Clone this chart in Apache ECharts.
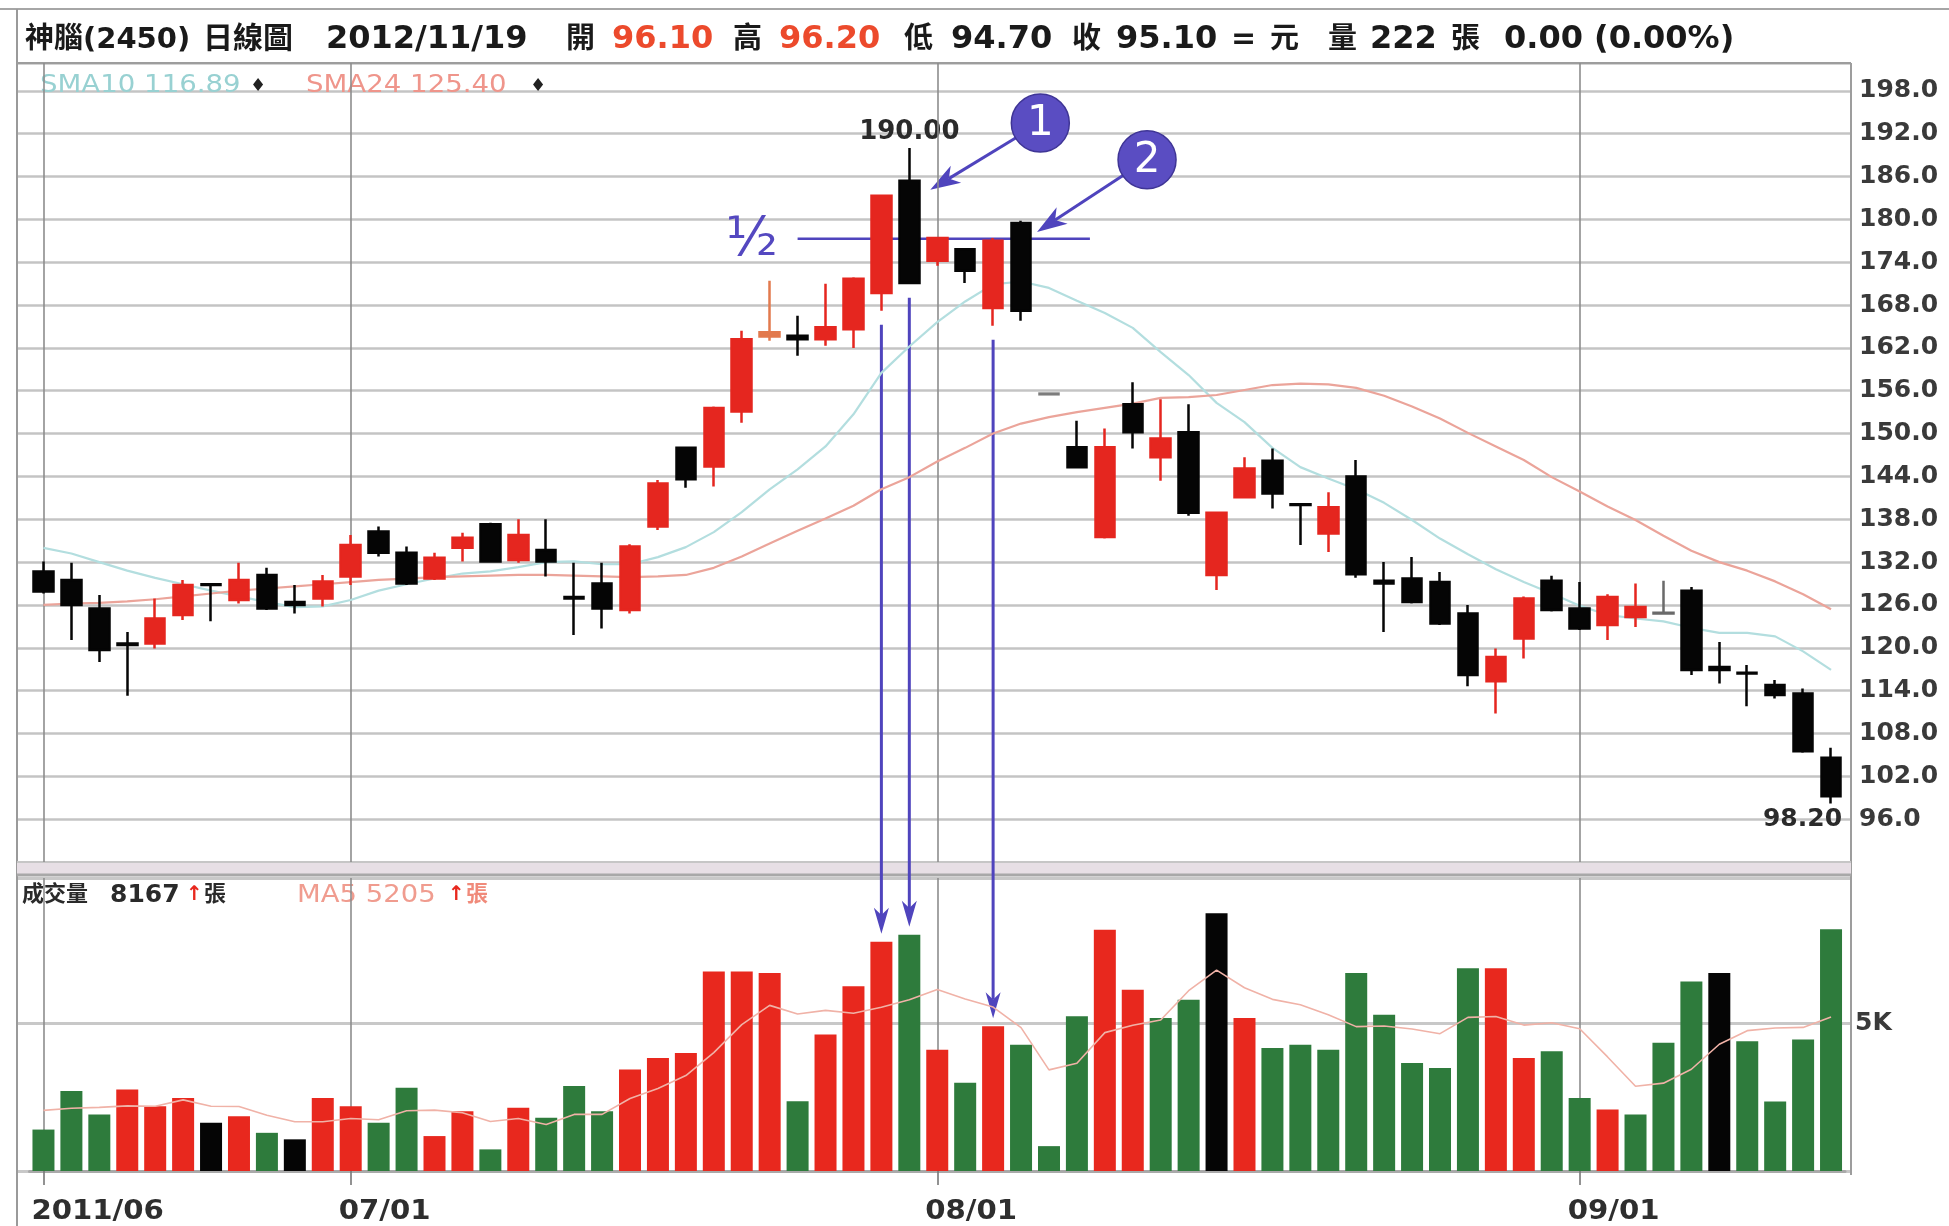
<!DOCTYPE html>
<html><head><meta charset="utf-8">
<script src="https://cdn.jsdelivr.net/npm/echarts@6/dist/echarts.min.js"></script>
<style>html,body{margin:0;padding:0;background:#fff;}#c{width:1949px;height:1226px;}</style>
</head><body><div id="c"></div>
<script>
// ---------------- DATA ----------------
const dates = [
'2011/06/16','2011/06/17','2011/06/20','2011/06/21','2011/06/22','2011/06/23','2011/06/24','2011/06/27','2011/06/28','2011/06/29','2011/06/30',
'2011/07/01','2011/07/04','2011/07/05','2011/07/06','2011/07/07','2011/07/08','2011/07/11','2011/07/12','2011/07/13','2011/07/14','2011/07/15',
'2011/07/18','2011/07/19','2011/07/20','2011/07/21','2011/07/22','2011/07/25','2011/07/26','2011/07/27','2011/07/28','2011/07/29',
'2011/08/01','2011/08/02','2011/08/03','2011/08/04','2011/08/05','2011/08/08','2011/08/09','2011/08/10','2011/08/11','2011/08/12',
'2011/08/15','2011/08/16','2011/08/17','2011/08/18','2011/08/19','2011/08/22','2011/08/23','2011/08/24','2011/08/25','2011/08/26',
'2011/08/29','2011/08/30','2011/08/31',
'2011/09/01','2011/09/02','2011/09/05','2011/09/06','2011/09/07','2011/09/08','2011/09/09','2011/09/13','2011/09/14','2011/09/15'];

const opens = [130.7,129.5,125.5,120.6,120.6,124.6,128.9,126.7,130.2,126.4,
126.9,130.0,136.3,133.3,129.7,134.0,137.3,132.3,133.7,127.1,
129.0,125.3,137.0,148.0,145.4,153.1,163.6,163.7,163.2,164.6,
169.7,185.4,174.2,175.8,167.6,179.5,155.6,148.1,135.5,154.1,
146.7,150.2,130.2,141.1,146.2,140.1,136.0,144.0,129.4,129.7,
129.2,124.8,115.3,121.3,129.4,125.5,123.2,124.3,124.9,128.0,
117.3,116.5,114.8,113.6,104.6];
const closes = [127.9,126.0,119.7,120.4,124.1,128.8,128.8,129.5,125.5,126.0,
129.3,134.4,133.3,129.0,132.6,135.4,132.1,135.8,132.1,126.9,
125.5,134.2,143.0,143.6,153.6,163.2,164.2,163.2,164.9,171.7,
183.3,171.1,177.4,172.8,177.0,167.2,155.5,145.3,148.1,150.2,
149.3,138.9,138.9,145.1,141.6,140.0,139.7,130.3,129.0,126.4,
123.4,116.2,118.7,126.9,125.3,122.7,127.1,125.7,124.8,116.9,
116.9,116.4,113.4,105.5,99.2];
const lows = [127.6,121.1,118.0,113.3,119.9,123.9,123.7,126.2,125.3,124.8,
125.8,128.8,132.8,128.8,129.5,132.1,131.9,131.9,130.0,121.8,
122.7,124.8,136.5,142.4,142.6,151.5,163.0,160.9,162.3,162.0,
167.2,171.0,173.5,171.1,165.1,165.8,155.5,145.3,135.3,147.9,
143.4,138.5,128.1,141.0,139.5,134.4,133.4,129.8,122.2,126.2,
123.2,114.6,110.8,118.5,125.1,122.5,121.1,122.9,124.8,116.2,
115.0,111.8,112.9,105.3,98.2];
const highs = [132.1,131.9,127.4,122.2,126.9,129.5,129.0,131.9,131.2,128.8,
130.2,135.8,137.0,134.2,133.3,136.1,137.5,138.0,138.0,131.9,
131.9,134.5,143.5,148.2,153.8,164.4,171.4,166.5,171.0,171.9,
183.5,190.0,177.5,175.9,177.4,179.8,155.6,151.8,150.7,157.2,
154.8,154.1,139.0,146.7,147.9,140.1,141.8,146.3,132.0,132.7,
130.6,126.0,119.9,127.2,130.1,129.2,127.5,129.0,129.4,128.5,
120.8,117.6,115.5,114.3,106.0];

const sma10 = [134.0,133.2,132.0,130.8,129.8,128.9,128.0,127.2,126.4,125.7,
125.8,126.7,128.0,128.9,129.7,130.4,130.7,131.3,132.0,132.1,
131.7,131.7,132.7,134.1,136.2,139.0,142.2,145.0,148.2,152.7,
158.5,162.2,165.6,168.5,170.9,171.3,170.4,168.6,166.9,164.8,
161.4,158.2,154.3,151.6,148.0,145.3,143.7,142.2,140.3,137.9,
135.3,133.1,131.0,129.2,127.6,125.9,124.6,124.1,123.7,122.8,
122.1,122.1,121.6,119.5,116.9];
const sma24 = [126.0,126.2,126.3,126.5,126.8,127.2,127.6,128.0,128.3,128.6,
128.9,129.2,129.5,129.7,129.9,130.0,130.1,130.2,130.2,130.1,
130.0,129.9,130.0,130.2,131.2,132.8,134.6,136.4,138.1,139.9,
142.2,143.9,146.1,148.0,150.0,151.4,152.3,153.0,153.6,154.2,
155.0,155.1,155.4,156.1,156.8,157.0,156.9,156.4,155.3,153.8,
152.1,150.1,148.2,146.3,143.9,141.9,139.8,137.9,135.7,133.6,
132.0,130.8,129.3,127.5,125.4];

const volumes = [1400,2700,1910,2750,2190,2470,1630,1850,1290,1070,
2470,2190,1630,2810,1180,2020,730,2140,1800,2870,
2020,3430,3820,3990,6740,6740,6690,2360,4610,6240,
7750,7980,4100,2980,4890,4270,840,5230,8150,6120,
5170,5790,8710,5170,4160,4270,4100,6690,5280,3650,
3480,6850,6850,3820,4050,2470,2080,1910,4330,6400,
6690,4380,2350,4440,8167];
// r = up (red), g = down (green), k = unchanged (black)
const volDir = ['g','g','g','r','r','r','k','r','g','k',
'r','r','g','g','r','r','g','r','g','g',
'g','r','r','r','r','r','r','g','r','r',
'r','g','r','g','r','g','g','g','r','r',
'g','g','k','r','g','g','g','g','g','g',
'g','g','r','r','g','g','r','g','g','g',
'k','g','g','g','g'];
const volMa5 = [2050,2120,2150,2200,2190,2404,2190,2178,1886,1662,
1662,1774,1730,2034,2056,1966,1674,1776,1574,1912,
1912,2452,2788,3226,4000,4944,5596,5304,5428,5328,
5530,5788,6136,5810,5540,4844,3416,3642,4676,4922,
5102,6092,6788,6192,5800,5620,5282,4878,4900,4798,
4640,5190,5222,4930,5010,4808,3854,2866,2968,3438,
4282,4742,4830,4852,5203];

const tickDates = ['2011/06/16','2011/07/01','2011/08/01','2011/09/01'];
const tickTexts = ['2011/06','07/01','08/01','09/01'];
const priceMin = 90, priceMax = 201.9, priceStep = 6;
const volMax = 9900, volStep = 5000;

// ---------------- STYLE ----------------
const RED = '#e5261f', BLACK = '#050505', GREEN = '#2e7b3c', GRAYC = '#7c7c7c';
const volColor = {r: '#e8281e', g: GREEN, k: BLACK};
const specialCandle = {26: '#e27a4e', 36: GRAYC, 58: '#6a6a6a'};
const FONT = '"DejaVu Sans", "Noto Sans CJK TC", sans-serif';
const GL = 29.5, GW = 1815.5;

const chart = echarts.init(document.getElementById('c'), null, {renderer: 'canvas'});

const ohlc = dates.map((d, i) => {
  const item = {value: [opens[i], closes[i], lows[i], highs[i]]};
  if (specialCandle[i]) {
    const c = specialCandle[i];
    item.itemStyle = {color: c, color0: c, borderColor: c, borderColor0: c};
  }
  return item;
});
const volData = volumes.map((v, i) => ({value: v, itemStyle: {color: volColor[volDir[i]]}}));
const tickIdx = tickDates.map(d => dates.indexOf(d));

const vline = {
  symbol: 'none', silent: true, z: 1, animation: false,
  label: {show: false},
  lineStyle: {color: '#8d8d8d', width: 1.6, type: 'solid'},
  emphasis: {disabled: true},
  data: tickDates.map(d => ({xAxis: d}))
};

const option = {
  animation: false,
  backgroundColor: '#fff',
  grid: [
    {left: GL, top: 63, width: GW, height: 799},
    {left: GL, top: 878, width: GW, height: 293},
    {left: 17, top: 63, width: 1834, height: 799},
    {left: 17, top: 878, width: 1834, height: 293}
  ],
  xAxis: [
    {type: 'category', data: dates, gridIndex: 0, boundaryGap: true,
     axisLine: {show: false}, axisTick: {show: false}, axisLabel: {show: false}, splitLine: {show: false}},
    {type: 'category', data: dates, gridIndex: 1, boundaryGap: true,
     axisLine: {show: true, lineStyle: {color: '#a9a9a9', width: 3}},
     axisTick: {show: true, alignWithLabel: true, length: 14, interval: (i) => tickIdx.includes(i),
                lineStyle: {color: '#777', width: 1.6}},
     axisLabel: {show: false}, splitLine: {show: false}},
    {type: 'value', gridIndex: 2, min: 0, max: 1, show: false},
    {type: 'value', gridIndex: 3, min: 0, max: 1, show: false}
  ],
  yAxis: [
    {type: 'value', gridIndex: 0, position: 'right', min: priceMin, max: priceMax, interval: priceStep,
     axisLine: {show: false}, axisTick: {show: false}, splitLine: {show: false},
     axisLabel: {margin: 14, color: '#3a3a3a', fontFamily: FONT, fontWeight: 'bold', fontSize: 25,
                 formatter: v => (v >= 95.9 && v <= 198.1) ? v.toFixed(1) : ''}},
    {type: 'value', gridIndex: 1, position: 'right', min: 0, max: volMax, interval: volStep,
     axisLine: {show: false}, axisTick: {show: false}, splitLine: {show: false},
     axisLabel: {margin: 10, color: '#3a3a3a', fontFamily: FONT, fontWeight: 'bold', fontSize: 25,
                 formatter: v => v === 5000 ? '5K' : ''}},
    {type: 'value', gridIndex: 2, min: priceMin, max: priceMax, interval: priceStep,
     axisLine: {show: false}, axisTick: {show: false}, axisLabel: {show: false},
     splitLine: {show: true, lineStyle: {color: '#c4c4c4', width: 2.6}}},
    {type: 'value', gridIndex: 3, min: 0, max: volMax, interval: volStep,
     axisLine: {show: false}, axisTick: {show: false}, axisLabel: {show: false},
     splitLine: {show: true, lineStyle: {color: '#c8c8c8', width: 3}}}
  ],
  series: [
    {type: 'line', name: 'SMA10', xAxisIndex: 0, yAxisIndex: 0, data: sma10, symbol: 'none', z: 1, silent: true,
     lineStyle: {color: '#b3dedf', width: 2.2}},
    {type: 'line', name: 'SMA24', xAxisIndex: 0, yAxisIndex: 0, data: sma24, symbol: 'none', z: 1, silent: true,
     lineStyle: {color: '#eba49a', width: 2.2}},
    {type: 'candlestick', name: 'K', xAxisIndex: 0, yAxisIndex: 0, data: ohlc, barWidth: 20, z: 3,
     itemStyle: {color: RED, color0: BLACK, borderColor: RED, borderColor0: BLACK, borderWidth: 2.5},
     markLine: vline},
    {type: 'bar', name: 'VOL', xAxisIndex: 1, yAxisIndex: 1, data: volData, barWidth: 22, z: 2,
     markLine: vline},
    {type: 'line', name: 'MA5', xAxisIndex: 1, yAxisIndex: 1, data: volMa5, symbol: 'none', z: 4, silent: true,
     lineStyle: {color: '#f0b2a7', width: 1.6}}
  ]
};
chart.setOption(option);

// ---------------- OVERLAYS (text, frame, annotations) ----------------
const P = (i, v) => chart.convertToPixel({gridIndex: 0}, [i, v]);
const V = (i, v) => chart.convertToPixel({gridIndex: 1}, [i, v]);
const g = [];
const txt = (x, y, text, o) => g.push(Object.assign({type: 'text', x, y, silent: true,
  style: Object.assign({text, fill: '#1a1a1a', fontFamily: FONT, fontSize: 30, fontWeight: 'bold',
    align: 'left', verticalAlign: 'middle', textAlign: 'left', textVerticalAlign: 'middle'}, o && o.style || {})},
  o && o.el || {}));
const line = (x1, y1, x2, y2, stroke, w) => g.push({type: 'line', silent: true, shape: {x1, y1, x2, y2},
  style: {stroke, lineWidth: w}});

// frames
line(0, 9, 1949, 9, '#a6a6a6', 2);
line(17, 9, 17, 1226, '#9a9a9a', 2);
line(17, 63, 1851, 63, '#9d9d9d', 2);
line(1851, 63, 1851, 1175, '#9d9d9d', 2);
g.push({type: 'rect', silent: true, shape: {x: 17, y: 862, width: 1834, height: 14},
        style: {fill: '#e7dfe5', stroke: null}});
line(17, 862, 1851, 862, '#c6c6c6', 2);
line(17, 875, 1851, 875, '#a8a8a8', 3);

// header
const hy = 40;
const head = [
  [25, '神腦(2450)', '#1a1a1a', 29], [203, '日線圖', '#1a1a1a', 30], [326, '2012/11/19', '#1a1a1a', 32],
  [566, '開', '#1a1a1a', 29], [612, '96.10', '#ec4a2c', 32], [733, '高', '#1a1a1a', 29], [779, '96.20', '#ec4a2c', 32],
  [904, '低', '#1a1a1a', 29], [951, '94.70', '#1a1a1a', 32], [1072, '收', '#1a1a1a', 29], [1116, '95.10', '#1a1a1a', 32],
  [1231, '=', '#1a1a1a', 30], [1270, '元', '#1a1a1a', 29], [1328, '量', '#1a1a1a', 29], [1370, '222', '#1a1a1a', 32],
  [1451, '張', '#1a1a1a', 29], [1504, '0.00', '#1a1a1a', 32], [1594, '(0.00%)', '#1a1a1a', 32]
];
head.forEach(h => txt(h[0], hy, h[1], {style: {fill: h[2], fontSize: h[3]}}));

// SMA legend
txt(40, 86, 'SMA10 116.89', {style: {fill: '#98d1d2', fontSize: 24, fontWeight: 'normal'}, el: {scaleX: 1.15}});
txt(250, 86, '♦', {style: {fill: '#222', fontSize: 18, fontWeight: 'normal'}});
txt(306, 86, 'SMA24 125.40', {style: {fill: '#ef958b', fontSize: 24, fontWeight: 'normal'}, el: {scaleX: 1.15}});
txt(530, 86, '♦', {style: {fill: '#222', fontSize: 18, fontWeight: 'normal'}});

// volume legend
txt(22, 895, '成交量', {style: {fill: '#2a2a2a', fontSize: 22}});
txt(110, 895, '8167', {style: {fill: '#2a2a2a', fontSize: 25}});
txt(186, 895, '↑', {style: {fill: '#e8281e', fontSize: 20}});
txt(204, 895, '張', {style: {fill: '#2a2a2a', fontSize: 22}});
txt(297, 895, 'MA5 5205', {style: {fill: '#f09c8f', fontSize: 25, fontWeight: 'normal'}, el: {scaleX: 1.1}});
txt(448, 895, '↑', {style: {fill: '#e8281e', fontSize: 20}});
txt(466, 895, '張', {style: {fill: '#f08a7a', fontSize: 22}});

// x-axis labels
tickIdx.forEach((idx, k) => {
  const p = V(idx, 0);
  txt(p[0] - 12, 1212, tickTexts[k], {style: {fill: '#2e2e2e', fontSize: 27}, el: {scaleX: 1.08}});
});

// price extremes labels
const iHigh = highs.indexOf(Math.max(...highs));
const iLow = lows.indexOf(Math.min(...lows));
const ph = P(iHigh, highs[iHigh]);
txt(ph[0], ph[1] - 16, highs[iHigh].toFixed(2), {style: {fontSize: 26, align: 'center', textAlign: 'center', fill: '#2a2a2a'}});
const pl = P(iLow, lows[iLow]);
txt(pl[0] + 11, pl[1] + 16, lows[iLow].toFixed(2), {style: {fontSize: 25, align: 'right', textAlign: 'right', fill: '#2a2a2a'}});

// annotations
const PUR = '#4f44bd';
function arrow(x1, y1, x2, y2, color, w, headL, headW) {
  const a = Math.atan2(y2 - y1, x2 - x1), c = Math.cos(a), s = Math.sin(a);
  const bx = x2 - headL * c, by = y2 - headL * s;
  const mx = x2 - headL * 0.72 * c, my = y2 - headL * 0.72 * s;
  const nx = -s, ny = c;
  g.push({type: 'line', silent: true, shape: {x1, y1, x2: mx, y2: my}, style: {stroke: color, lineWidth: w}});
  g.push({type: 'polygon', silent: true, shape: {points: [[x2, y2], [bx + nx * headW / 2, by + ny * headW / 2], [mx, my], [bx - nx * headW / 2, by - ny * headW / 2]]},
          style: {fill: color}});
}
// vertical arrows from candles to their volume bars
[30, 31, 34].forEach(i => {
  const top = P(i, lows[i]);
  const bot = V(i, volumes[i]);
  arrow(top[0], top[1] + 14, bot[0], bot[1] - 8, PUR, 3, 26, 15);
});
// half line
const iA = 27, iB = 37;
const halfY = P(iA, 177.3)[1];
line(P(iA, 177.3)[0], halfY, P(iB, 177.3)[0] + 13, halfY, PUR, 2.5);
txt(P(iA, 177.3)[0] - 46, halfY + 2, '½', {style: {fill: '#5448c0', fontSize: 54, fontWeight: 'normal', align: 'center', textAlign: 'center'}});

// numbered circles with arrows
function badge(cx, cy, num, tx, ty) {
  const r = 29;
  const d = Math.hypot(tx - cx, ty - cy);
  const sx = cx + (tx - cx) / d * (r - 2), sy = cy + (ty - cy) / d * (r - 2);
  arrow(sx, sy, tx, ty, PUR, 3, 30, 20);
  g.push({type: 'circle', silent: true, shape: {cx, cy, r}, style: {fill: '#5a4dc2', stroke: '#3f3596', lineWidth: 1.5}});
  g.push({type: 'text', silent: true, x: cx, y: cy + 1, style: {text: num, fill: '#fff', fontFamily: FONT, fontSize: 42,
          align: 'center', verticalAlign: 'middle', textAlign: 'center', textVerticalAlign: 'middle'}});
}
const b1 = P(31, opens[31]);
badge(b1[0] + 131, P(31, highs[31])[1] - 25, '1', b1[0] + 21, b1[1] + 9);
const b2 = P(35, opens[35]);
badge(b2[0] + 126, P(35, highs[35])[1] - 61, '2', b2[0] + 16, b2[1] + 9);

chart.setOption({graphic: g});
</script>
</body></html>
